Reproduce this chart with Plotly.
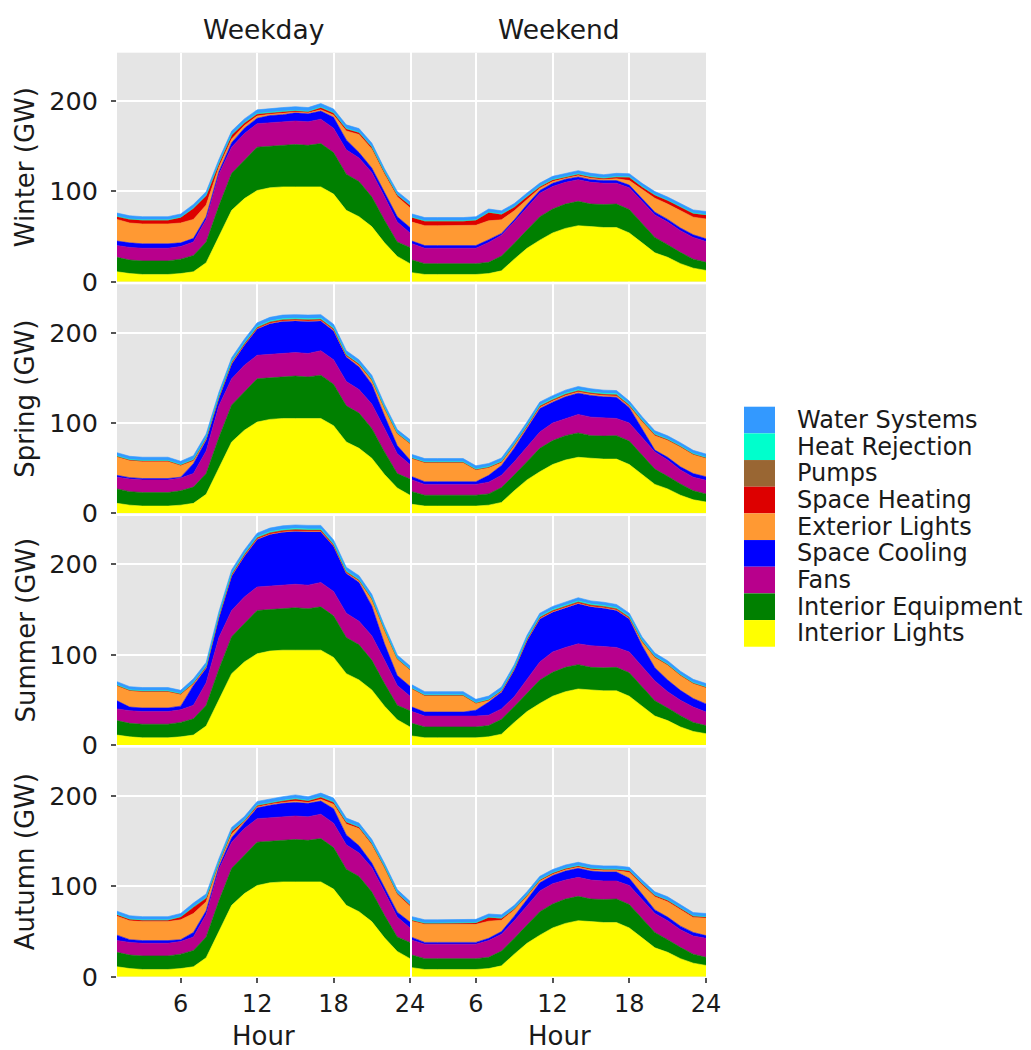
import plotly.graph_objects as go

# ---------------- data ----------------
HOURS = [1, 2, 3, 4, 5, 6, 7, 8, 9, 10, 11, 12, 13, 14, 15, 16, 17, 18, 19, 20, 21, 22, 23, 24]

SERIES = ["Interior Lights", "Interior Equipment", "Fans", "Space Cooling", "Exterior Lights",
          "Space Heating", "Pumps", "Heat Rejection", "Water Systems"]
COLORS = ["#FFFF00", "#008000", "#B8008C", "#0000FF", "#FF9933",
          "#DD0000", "#996633", "#00FFCC", "#3399FF"]
SEASONS = ["Winter", "Spring", "Summer", "Autumn"]
DAYTYPES = ["Weekday", "Weekend"]
Y_TICKS = [0, 100, 200]
X_TICKS = [6, 12, 18, 24]

# weekday profiles shared by all seasons
LIGHTS_WD = [11, 9, 8, 8, 8, 9, 11, 21, 50, 79, 92, 101, 104, 105, 105, 105, 105, 97, 79, 72, 61, 43, 28, 20]
EQUIP_WD = [16, 15, 15, 15, 15, 16, 18, 23, 34, 41, 43, 48, 46, 46, 47, 46, 48, 46, 40, 39, 33, 25, 16, 18]
FANS_WD = [13, 14, 14, 14, 14, 14, 15, 25, 35, 29, 29, 26, 26, 26, 26, 26, 27, 27, 27, 26, 27, 26, 22, 16]
WATER_WD = [3.5, 3.5, 3.5, 3.5, 3.5, 3.5, 4, 4, 4, 4, 4, 4, 4, 4, 4, 4, 4, 4, 4, 4, 4, 3.5, 3.5, 3.5]
PUMPS_WD = [0.4, 0.4, 0.4, 0.4, 0.4, 0.4, 0.5, 0.5, 0.6, 0.6, 0.6, 0.6, 0.6, 0.6, 0.6, 0.6, 0.6, 0.6, 0.5, 0.5, 0.5, 0.4, 0.4, 0.4]

# weekend profiles shared by all seasons
LIGHTS_WE = [10, 8, 8, 8, 8, 8, 9, 12, 25, 37, 46, 54, 59, 62, 61, 60, 60, 54, 43, 32, 27, 20, 15, 12.5]
EQUIP_WE = [14, 12, 12, 12, 12, 12, 12.5, 16.5, 17.5, 20.5, 26, 26.5, 27, 27, 25, 25.5, 26, 26, 22, 17, 14, 12.5, 10, 9]
WATER_WE = [3.5, 3.5, 3.5, 3.5, 3.5, 3.5, 3.5, 3.5, 3.5, 3.5, 3.5, 3.5, 3.5, 3.5, 3.5, 3.5, 3.5, 3.5, 3.5, 3.5, 3.5, 3.5, 3.5, 3.5]
PUMPS_WE = [0.4, 0.4, 0.4, 0.4, 0.4, 0.4, 0.4, 0.4, 0.4, 0.5, 0.5, 0.5, 0.5, 0.5, 0.5, 0.5, 0.5, 0.5, 0.4, 0.4, 0.4, 0.4, 0.4, 0.4]

HREJ_COLD = [0.1, 0.1, 0.1, 0.1, 0.1, 0.1, 0.1, 0.1, 0.1, 0.2, 0.2, 0.2, 0.2, 0.2, 0.2, 0.2, 0.2, 0.2, 0.2, 0.1, 0.1, 0.1, 0.1, 0.1]
HREJ_WARM = [0.2, 0.2, 0.2, 0.2, 0.2, 0.2, 0.3, 0.3, 0.4, 0.6, 0.7, 0.8, 0.9, 0.9, 0.9, 0.9, 0.9, 0.8, 0.6, 0.5, 0.4, 0.3, 0.3, 0.2]

# Winter
COOL_WIN_WD = [5, 5, 5, 5, 5, 4, 4, 3, 3, 5, 6, 6, 8, 8, 9, 9, 9, 12, 11, 6, 5, 5, 6, 6]
EXT_WIN_WD = [24, 22, 22, 22, 22, 22, 21, 13, 5, 4, 3, 2.5, 1.5, 1.5, 1, 1, 1.5, 2.5, 10, 20, 21, 20, 22, 22]
HEAT_WIN_WD = [3, 4, 4, 4, 4, 6, 12, 10, 3.5, 4, 2.5, 2, 1.5, 1.5, 1, 1, 2, 2, 2, 2, 2, 2, 2, 2.5]
FANS_WIN_WE = [18, 17, 17, 17, 17, 17, 22, 23, 24, 25, 26, 25, 24, 24, 24, 23.5, 23, 24, 24, 25, 25, 24, 24, 23]
COOL_WIN_WE = [3, 3, 3, 3, 3, 3, 3, 2, 2, 3, 3, 3.5, 3.5, 3, 3, 3, 3, 3, 3, 3, 3, 3, 3, 3]
EXT_WIN_WE = [21, 22, 22, 22, 22, 22.5, 21, 15, 10, 6, 2.5, 2, 1.2, 1.5, 1.5, 1.3, 2, 5, 10, 15.5, 17, 19.5, 19.5, 22]
HEAT_WIN_WE = [5, 5, 5, 5, 5, 5.5, 9, 6, 4, 2.5, 1.5, 1.5, 1, 1.3, 1.3, 1, 1.8, 3.4, 2.8, 3.3, 3.8, 3.8, 4, 4.3]

# Spring
COOL_SPR_WD = [2, 1.5, 1.5, 1.5, 1.5, 1, 11, 12, 8, 16, 22, 29, 34, 35.5, 35, 35.5, 33, 32, 27, 25, 22, 14, 9, 5]
EXT_SPR_WD = [20.5, 19, 19, 19, 19, 13, 3, 1, 1, 1, 0.5, 0.5, 0.5, 0.5, 0.5, 0.5, 0.5, 1, 1, 2, 4, 8, 13, 18]
HEAT_SPR_WD = [0.5, 0.5, 0.5, 0.5, 0.5, 0.5, 1, 1, 1, 1, 1, 1, 1, 1, 1, 1, 1, 1, 1, 1, 1, 0.5, 0.5, 0.5]
FANS_SPR_WE = [13, 12, 12, 12, 12, 12, 13, 13.5, 14.5, 16, 18, 19.5, 19, 20.5, 20.5, 20.5, 19, 20, 19.5, 19, 18, 15.5, 15, 15]
COOL_SPR_WE = [3.5, 3, 3, 3, 3, 3, 7.5, 11, 15, 20.5, 26, 23, 24, 23.5, 24, 23, 23.5, 17, 9, 2, 3, 3.5, 4, 4]
EXT_SPR_WE = [20, 21, 21, 21, 21, 13, 8.5, 3, 3, 1.5, 1.5, 1.5, 1.5, 1.5, 1.5, 1.5, 1.5, 1.5, 8, 16, 19, 22, 21, 20.5]
HEAT_SPR_WE = [0.5, 0.5, 0.5, 0.5, 0.5, 0.5, 0.5, 1, 1, 1, 1, 1, 1, 1, 1, 1, 1, 1, 1, 1, 0.5, 0.5, 0.5, 0.5]

# Summer
COOL_SUM_WD = [9, 4, 4, 4, 4, 4, 22, 16, 22, 38, 45, 52.5, 57, 58.5, 58.5, 59, 56, 50, 44, 43, 33, 18, 11, 11]
EXT_SUM_WD = [16.5, 18, 18, 18, 18, 13, 1.5, 0.5, 0.5, 0.5, 0.5, 0.5, 0.5, 0.5, 0.5, 0.5, 0.5, 0.5, 0.5, 1.5, 7, 15, 18, 18]
HEAT_SUM_WD = [0.5, 0.5, 0.5, 0.5, 0.5, 0.5, 1, 1.2, 1.2, 1.2, 1.2, 1.2, 1.2, 1.2, 1.2, 1.2, 1.2, 1.2, 1.2, 1, 1, 0.5, 0.5, 0.5]
FANS_SUM_WE = [13, 12, 12, 12, 12, 12, 11.5, 11.5, 11, 15.5, 20, 22.5, 22, 23, 24, 23.5, 22, 23, 22, 22, 18, 17, 17, 15]
COOL_SUM_WE = [5, 4.5, 4.5, 4.5, 4.5, 6.5, 14.5, 18.5, 29.5, 42.5, 47.5, 44, 44, 44.5, 43, 42.5, 41, 36.5, 23, 14.5, 13, 11, 9.5, 9]
EXT_SUM_WE = [20, 18, 18, 18, 18, 7.5, 2, 0.5, 0.5, 0.5, 0.5, 0.5, 0.5, 0.5, 0.5, 0.5, 0.5, 0.5, 4, 11, 16.5, 16.5, 16.5, 18]
HEAT_SUM_WE = [0.5, 0.5, 0.5, 0.5, 0.5, 0.5, 0.5, 1, 1, 1, 1.2, 1.2, 1.2, 1.2, 1.2, 1.2, 1.2, 1.2, 1, 1, 0.5, 0.5, 0.5, 0.5]

# Autumn
COOL_AUT_WD = [6, 3, 3, 3, 3, 2, 5, 4, 3, 5, 6, 12, 14, 15, 15, 15, 14.5, 16, 11, 8, 5, 5, 5.5, 6.5]
EXT_AUT_WD = [21, 21, 21, 21, 21, 22, 21, 10, 3, 4, 1.5, 1, 1, 1, 1.5, 1, 2, 5, 12, 19, 20, 21, 19.5, 17.5]
HEAT_AUT_WD = [1.5, 1.5, 1.5, 1.5, 1.5, 3, 7, 4, 1, 2.5, 1, 1.3, 1.2, 1.5, 2, 1.5, 2, 2, 2, 1.5, 1.5, 1.5, 1.5, 1.5]
FANS_AUT_WE = [16.5, 16, 16, 16, 16, 16, 18.5, 18.5, 19.5, 20.5, 23, 22.5, 21, 21, 21, 20.5, 20, 21, 21, 21, 21, 19.5, 20, 21]
COOL_AUT_WE = [3, 2, 2, 2, 2, 2, 2.5, 3, 5, 7, 9, 9, 10, 10, 10, 10, 10, 8, 6, 4, 4, 4, 4, 3]
EXT_AUT_WE = [18, 20, 20, 20, 20, 20, 19, 12.5, 7, 4, 2, 1.5, 1.5, 1.5, 1.5, 1.5, 1.5, 6.5, 9.5, 14.5, 17, 18.5, 16.5, 19.5]
HEAT_AUT_WE = [1, 1, 1, 1, 1, 1.5, 4, 2, 1, 1, 1, 1, 1, 1, 1, 1, 1, 1.5, 1.5, 1.5, 1.5, 1.5, 1.5, 1]

PANELS = {
    ("Winter", "Weekday"): [LIGHTS_WD, EQUIP_WD, FANS_WD, COOL_WIN_WD, EXT_WIN_WD, HEAT_WIN_WD, PUMPS_WD, HREJ_COLD, WATER_WD],
    ("Winter", "Weekend"): [LIGHTS_WE, EQUIP_WE, FANS_WIN_WE, COOL_WIN_WE, EXT_WIN_WE, HEAT_WIN_WE, PUMPS_WE, HREJ_COLD, WATER_WE],
    ("Spring", "Weekday"): [LIGHTS_WD, EQUIP_WD, FANS_WD, COOL_SPR_WD, EXT_SPR_WD, HEAT_SPR_WD, PUMPS_WD, HREJ_WARM, WATER_WD],
    ("Spring", "Weekend"): [LIGHTS_WE, EQUIP_WE, FANS_SPR_WE, COOL_SPR_WE, EXT_SPR_WE, HEAT_SPR_WE, PUMPS_WE, HREJ_WARM, WATER_WE],
    ("Summer", "Weekday"): [LIGHTS_WD, EQUIP_WD, FANS_WD, COOL_SUM_WD, EXT_SUM_WD, HEAT_SUM_WD, PUMPS_WD, HREJ_WARM, WATER_WD],
    ("Summer", "Weekend"): [LIGHTS_WE, EQUIP_WE, FANS_SUM_WE, COOL_SUM_WE, EXT_SUM_WE, HEAT_SUM_WE, PUMPS_WE, HREJ_WARM, WATER_WE],
    ("Autumn", "Weekday"): [LIGHTS_WD, EQUIP_WD, FANS_WD, COOL_AUT_WD, EXT_AUT_WD, HEAT_AUT_WD, PUMPS_WD, HREJ_COLD, WATER_WD],
    ("Autumn", "Weekend"): [LIGHTS_WE, EQUIP_WE, FANS_AUT_WE, COOL_AUT_WE, EXT_AUT_WE, HEAT_AUT_WE, PUMPS_WE, HREJ_COLD, WATER_WE],
}

# ---------------- layout geometry (pixels) ----------------
W, H = 1031, 1050
COL_PX = [(117, 410), (412, 706)]
ROW_PX = [(52.7, 281.7), (284.3, 513.3), (516, 745), (747.7, 976.7)]
Y_MAX = 253.6
FONT = "DejaVu Sans"
TXT = "#1a1a1a"


def px_x(x):
    return x / W


def px_y(y):
    return 1 - y / H


fig = go.Figure()
layout = dict(
    width=W, height=H, margin=dict(l=0, r=0, t=0, b=0, autoexpand=False),
    paper_bgcolor="white", plot_bgcolor="#E5E5E5", showlegend=False,
    font=dict(family=FONT, color=TXT),
)

for r, season in enumerate(SEASONS):
    for c, day in enumerate(DAYTYPES):
        k = r * 2 + c + 1
        xa, ya = f"x{k}", f"y{k}"
        for name, color, vals in zip(SERIES, COLORS, PANELS[(season, day)]):
            fig.add_trace(go.Scatter(
                x=HOURS, y=vals, name=name, stackgroup=f"g{k}", mode="lines",
                line=dict(width=0.6, color=color), fillcolor=color,
                xaxis=xa, yaxis=ya, showlegend=False,
            ))
        bottom = r == len(SEASONS) - 1
        left = c == 0
        layout[f"xaxis{k}"] = dict(
            domain=[px_x(COL_PX[c][0]), px_x(COL_PX[c][1])], anchor=ya,
            range=[1, 24], tickvals=X_TICKS, showticklabels=bottom,
            ticks="outside" if bottom else "", ticklen=5, tickwidth=1.5, tickcolor="#555555",
            tickfont=dict(size=24, family=FONT, color=TXT),
            showgrid=True, gridcolor="white", gridwidth=2, zeroline=False, showline=False,
        )
        layout[f"yaxis{k}"] = dict(
            domain=[px_y(ROW_PX[r][1]), px_y(ROW_PX[r][0])], anchor=xa,
            range=[0, Y_MAX], tickvals=Y_TICKS, showticklabels=left,
            ticks="outside" if left else "", ticklen=5, tickwidth=1.5, tickcolor="#555555",
            ticklabelstandoff=8,
            tickfont=dict(size=25.5, family=FONT, color=TXT),
            showgrid=True, gridcolor="white", gridwidth=2, zeroline=False, showline=False,
        )

annotations = []
shapes = []
for c, day in enumerate(DAYTYPES):
    cx = (COL_PX[c][0] + COL_PX[c][1]) / 2
    annotations.append(dict(text=day, x=px_x(cx), y=px_y(29), xref="paper", yref="paper",
                            showarrow=False, xanchor="center", yanchor="middle",
                            font=dict(size=26.5, family=FONT, color=TXT)))
    annotations.append(dict(text="Hour", x=px_x(cx), y=px_y(1035.5), xref="paper", yref="paper",
                            showarrow=False, xanchor="center", yanchor="middle",
                            font=dict(size=26, family=FONT, color=TXT)))
for r, season in enumerate(SEASONS):
    cy = (ROW_PX[r][0] + ROW_PX[r][1]) / 2
    annotations.append(dict(text=f"{season} (GW)", x=px_x(25), y=px_y(cy), xref="paper", yref="paper",
                            showarrow=False, xanchor="center", yanchor="middle", textangle=-90,
                            font=dict(size=26, family=FONT, color=TXT)))

# legend (top entry = top of the stack)
LEG_TOP, LEG_STEP = 406.7, 26.67
for i, (name, color) in enumerate(zip(SERIES[::-1], COLORS[::-1])):
    y0 = LEG_TOP + i * LEG_STEP
    shapes.append(dict(type="rect", xref="paper", yref="paper",
                       x0=px_x(744), x1=px_x(775), y0=px_y(y0), y1=px_y(y0 + LEG_STEP),
                       fillcolor=color, line=dict(width=0)))
    annotations.append(dict(text=name, x=px_x(795), y=px_y(y0 + LEG_STEP / 2), xref="paper", yref="paper",
                            showarrow=False, xanchor="left", yanchor="middle",
                            font=dict(size=24, family=FONT, color=TXT)))

layout["annotations"] = annotations
layout["shapes"] = shapes
fig.update_layout(**layout)
fig.write_html("out.html", config={"displayModeBar": False},
               post_script="document.body.style.margin='0';document.body.style.overflow='hidden';")
